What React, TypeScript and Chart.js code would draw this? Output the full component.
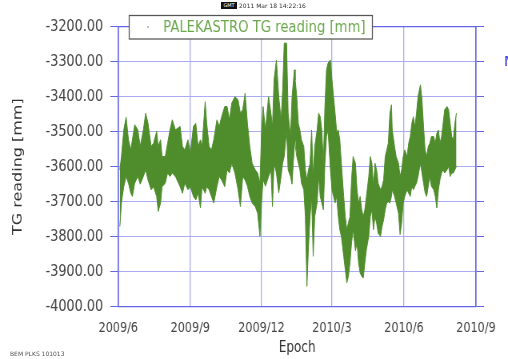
import React, { useEffect, useRef } from 'react';
import { Chart, registerables } from 'chart.js';

Chart.register(...registerables);

// ---------- data (days since 2009-06-01) ----------
const SERIES_LABEL = 'PALEKASTRO TG reading [mm]';

const DAYS = [
  2, 4, 7, 10, 13, 16, 18, 21, 25, 28, 32, 35, 38, 42, 45, 49, 51, 54, 56, 60, 63, 66, 69,
  73, 79, 82, 85, 89, 92, 96, 99, 102, 105, 107, 111, 113, 116, 119, 122, 126, 129, 132, 136, 139, 142, 145,
  149, 153, 156, 159, 162, 165, 168, 171, 175, 178, 181, 183, 185, 188, 192, 195, 197, 199, 202, 205, 208, 210, 212, 215, 217, 220, 222, 225,
  226, 228, 230, 232, 234, 237, 239, 241, 243, 245, 247, 249, 251, 254, 256, 258, 260, 262, 264, 266, 268, 271, 273, 275, 277, 279, 281, 283, 285, 288, 290, 292, 294, 296, 298, 300,
  303, 305, 307, 309, 311, 313, 315, 317, 320, 322, 324, 326, 328, 330, 332, 335, 337, 339, 341, 343, 345, 347, 349, 350, 353, 355, 358, 360, 362, 364, 366, 369, 371, 373, 375, 377,
  379, 381, 383, 386, 388, 390, 392, 394, 396, 398, 400, 403, 405, 407, 409, 411, 413, 415, 417, 420, 422, 424, 426, 428, 430, 432,
];

const HIGH = [
  -3609, -3571, -3495, -3458, -3523, -3552, -3523, -3480, -3495, -3542, -3495, -3447, -3476, -3542, -3533, -3499, -3542, -3523, -3571, -3571, -3533, -3495, -3466,
  -3495, -3485, -3542, -3552, -3523, -3561, -3485, -3476, -3542, -3523, -3542, -3414, -3476, -3542, -3552, -3523, -3466, -3485, -3457, -3428, -3428, -3466, -3418,
  -3400, -3409, -3447, -3437, -3390, -3476, -3542, -3590, -3609, -3618, -3647, -3504, -3428, -3495, -3400, -3447, -3485, -3352, -3295, -3400, -3466, -3380, -3247, -3247, -3447, -3514, -3400, -3323,
  -3352, -3399, -3476, -3495, -3523, -3542, -3609, -3637, -3609, -3590, -3495, -3628, -3542, -3495, -3447, -3457, -3495, -3590, -3428, -3323, -3304, -3295, -3352, -3400, -3447, -3500, -3495, -3523, -3590, -3685, -3742, -3780, -3760, -3742, -3637, -3571,
  -3590, -3666, -3704, -3685, -3723, -3742, -3723, -3685, -3628, -3571, -3590, -3656, -3590, -3609, -3647, -3666, -3656, -3637, -3571, -3552, -3533, -3447, -3423, -3495, -3542, -3571, -3590, -3628, -3609, -3571, -3552, -3571, -3533, -3514, -3476, -3457,
  -3485, -3447, -3399, -3366, -3409, -3485, -3552, -3571, -3542, -3533, -3514, -3514, -3533, -3504, -3495, -3533, -3514, -3476, -3437, -3428, -3437, -3476, -3514, -3523, -3476, -3447,
];

const LOW = [
  -3771, -3704, -3657, -3628, -3647, -3676, -3685, -3647, -3628, -3650, -3628, -3609, -3638, -3666, -3657, -3685, -3728, -3704, -3657, -3647, -3618, -3628, -3618,
  -3628, -3657, -3676, -3647, -3666, -3657, -3685, -3695, -3676, -3718, -3657, -3676, -3657, -3666, -3685, -3704, -3657, -3628, -3638, -3657, -3609, -3618, -3590,
  -3618, -3666, -3714, -3628, -3638, -3656, -3685, -3704, -3714, -3733, -3799, -3704, -3637, -3656, -3628, -3609, -3714, -3590, -3618, -3675, -3628, -3590, -3571, -3495, -3609, -3628, -3650, -3523,
  -3523, -3571, -3590, -3609, -3647, -3666, -3742, -3942, -3828, -3742, -3685, -3856, -3742, -3704, -3628, -3685, -3704, -3723, -3590, -3514, -3495, -3609, -3666, -3685, -3704, -3685, -3742, -3780, -3799, -3856, -3894, -3932, -3913, -3875, -3818, -3780,
  -3840, -3818, -3875, -3904, -3913, -3918, -3875, -3837, -3799, -3742, -3723, -3780, -3742, -3761, -3790, -3799, -3771, -3752, -3723, -3704, -3700, -3704, -3685, -3666, -3685, -3704, -3733, -3794, -3761, -3704, -3685, -3666, -3676, -3685, -3656, -3666,
  -3656, -3647, -3628, -3590, -3618, -3647, -3675, -3685, -3656, -3628, -3656, -3666, -3685, -3718, -3666, -3637, -3618, -3609, -3618, -3609, -3599, -3628, -3618, -3618, -3609, -3599,
];

const X_TICK_DAYS = [0, 92, 183, 273, 365, 457];
const X_TICK_LABELS = ['2009/6', '2009/9', '2009/12', '2010/3', '2010/6', '2010/9'];
const Y_MIN = -4000;
const Y_MAX = -3200;
const Y_STEP = 100;

// ---------- look ----------
const SQUEEZE = 0.8; // reference is horizontally compressed
const CW = 635;
const CH = 359;
const FONT = "'DejaVu Sans', sans-serif";
const GREEN = '#4f8d2c';
const GRID = '#ababf3';
const AXIS = '#6464e6';

const legendBox = {
  id: 'legendBox',
  afterDraw(chart: any) {
    const ctx = chart.ctx;
    ctx.save();
    ctx.fillStyle = '#ffffff';
    ctx.fillRect(161, 15, 305, 24);
    ctx.strokeStyle = '#555555';
    ctx.lineWidth = 1.25;
    ctx.strokeRect(161.5, 15.5, 304, 23.5);
    ctx.fillStyle = '#9aa89a';
    ctx.beginPath();
    ctx.arc(185, 27, 1, 0, Math.PI * 2);
    ctx.fill();
    ctx.font = `16.5px ${FONT}`;
    ctx.fillStyle = '#6aa84c';
    ctx.textBaseline = 'middle';
    ctx.textAlign = 'left';
    ctx.fillText(chart.data.datasets[0].label, 204, 28);
    ctx.restore();
  },
};

export default function App() {
  const ref = useRef<HTMLCanvasElement | null>(null);

  useEffect(() => {
    if (!ref.current) return;
    const high = DAYS.map((d, i) => ({ x: d, y: HIGH[i] }));
    const low = DAYS.map((d, i) => ({ x: d, y: LOW[i] }));
    const chart = new Chart(ref.current, {
      type: 'line',
      data: {
        datasets: [
          {
            label: SERIES_LABEL,
            data: high,
            borderColor: GREEN,
            backgroundColor: GREEN,
            borderWidth: 1,
            pointRadius: 0,
            tension: 0,
            fill: '+1',
          },
          {
            label: 'low',
            data: low,
            borderColor: GREEN,
            backgroundColor: GREEN,
            borderWidth: 1,
            pointRadius: 0,
            tension: 0,
            fill: false,
          },
        ],
      },
      options: {
        animation: false,
        responsive: false,
        devicePixelRatio: 1,
        maintainAspectRatio: false,
        layout: { padding: { left: 0, right: 30, top: 26.7, bottom: 0 } },
        plugins: {
          legend: { display: false },
          tooltip: { enabled: false },
        },
        scales: {
          x: {
            type: 'linear',
            min: 0,
            max: 457,
            afterBuildTicks: (s: any) => {
              s.ticks = X_TICK_DAYS.map((v) => ({ value: v }));
            },
            afterFit: (s: any) => {
              s.height = CH - 306.7;
            },
            ticks: {
              callback: (v: any) => {
                const i = X_TICK_DAYS.indexOf(Number(v));
                return i >= 0 ? X_TICK_LABELS[i] : '';
              },
              autoSkip: false,
              maxRotation: 0,
              padding: 13,
              color: '#444',
              font: { family: FONT, size: 14 },
            },
            grid: { color: GRID, lineWidth: 1.3, drawTicks: false },
            border: { color: AXIS, width: 1.3 },
            title: {
              display: true,
              text: 'Epoch',
              color: '#333',
              font: { family: FONT, size: 15 },
              padding: { top: 0, bottom: 2 },
            },
          },
          xTop: {
            type: 'linear',
            position: 'top',
            min: 0,
            max: 457,
            ticks: { display: false },
            grid: { display: false, drawTicks: false },
            border: { display: true, color: AXIS, width: 1.2 },
            afterFit: (s: any) => {
              s.height = 0;
            },
          },
          y: {
            type: 'linear',
            min: Y_MIN,
            max: Y_MAX,
            afterFit: (s: any) => {
              s.width = 118.3 / SQUEEZE;
            },
            ticks: {
              stepSize: Y_STEP,
              padding: 9,
              color: '#444',
              font: { family: FONT, size: 16 },
              callback: (v: any) => Number(v).toFixed(2),
            },
            grid: {
              color: GRID,
              lineWidth: 1,
              tickLength: 10,
              tickColor: AXIS,
              tickBorderDash: [],
            },
            border: { color: AXIS, width: 1.6 },
            title: {
              display: true,
              text: 'TG reading [mm]',
              color: '#333',
              font: { family: FONT, size: 16 },
              padding: { top: 13, bottom: 0 },
            },
          },
          y2: {
            type: 'linear',
            position: 'right',
            min: Y_MIN,
            max: Y_MAX,
            afterFit: (s: any) => {
              s.width = 10;
            },
            ticks: { display: false, stepSize: Y_STEP },
            grid: {
              drawOnChartArea: false,
              tickLength: 10,
              tickColor: AXIS,
              color: AXIS,
            },
            border: { color: AXIS, width: 1.6 },
          },
        },
      },
      plugins: [legendBox],
    } as any);
    return () => chart.destroy();
  }, []);

  return (
    <div
      style={{
        position: 'absolute',
        left: 0,
        top: 0,
        width: 508,
        height: 359,
        overflow: 'hidden',
        background: '#fff',
      }}
    >
      <canvas
        ref={ref}
        width={CW}
        height={CH}
        style={{ width: '508px', height: '359px', display: 'block' }}
      />
      <div
        style={{
          position: 'absolute',
          left: 221,
          top: 2,
          width: 16,
          height: 7,
          background: '#111',
          color: '#fff',
          fontFamily: FONT,
          fontSize: 5,
          lineHeight: '7px',
          textAlign: 'center',
        }}
      >
        GMT
      </div>
      <div
        style={{
          position: 'absolute',
          left: 239,
          top: 1,
          color: '#333',
          fontFamily: FONT,
          fontSize: 6,
          lineHeight: '9px',
          whiteSpace: 'nowrap',
        }}
      >
        2011 Mar 18 14:22:16
      </div>
      <div
        style={{
          position: 'absolute',
          left: 10,
          top: 349,
          color: '#555',
          fontFamily: FONT,
          fontSize: 6,
          lineHeight: '9px',
          whiteSpace: 'nowrap',
        }}
      >
        BEM PLKS 101013
      </div>
      <div
        style={{
          position: 'absolute',
          left: 504,
          top: 52,
          color: '#3a3adf',
          fontFamily: FONT,
          fontSize: 14,
          lineHeight: '18px',
          whiteSpace: 'nowrap',
        }}
      >
        M
      </div>
    </div>
  );
}
